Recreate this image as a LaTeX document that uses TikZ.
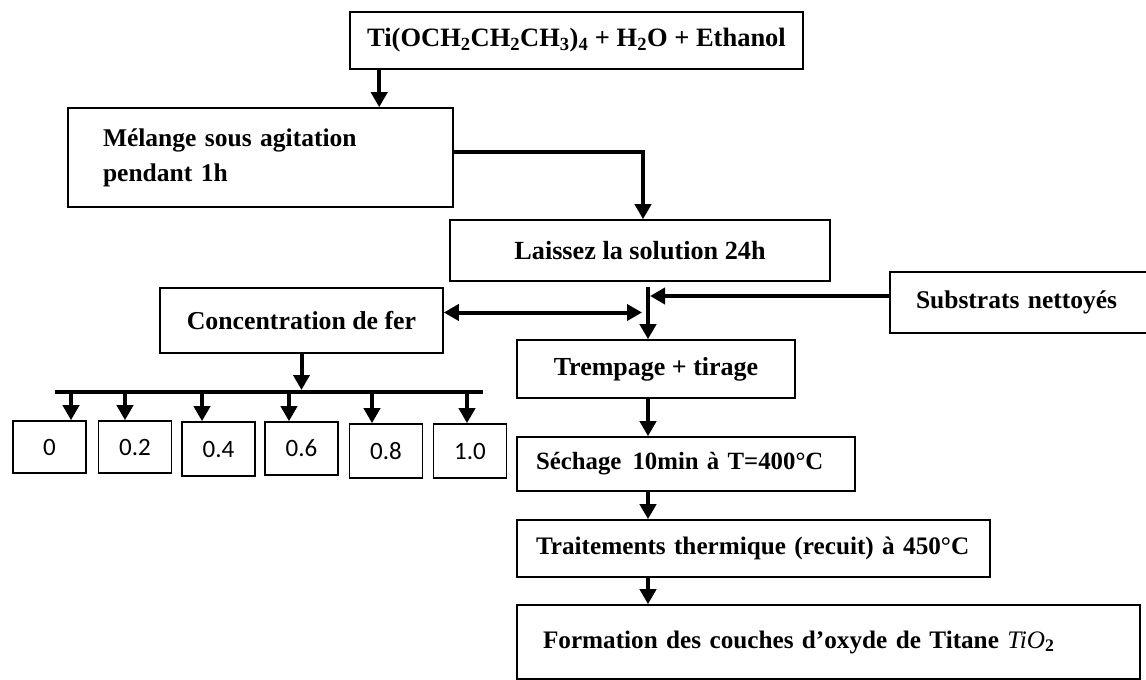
\documentclass[tikz,border=0pt]{standalone}
\usepackage{fontspec}
\setmainfont{Liberation Serif}
\newfontfamily\numfont{Carlito}
\usetikzlibrary{arrows.meta}
\newcommand\boxsize[1]{\fontsize{#1}{#1}\selectfont}
\begin{document}
\begin{tikzpicture}[x=1pt,y=-1pt,
  box/.style={draw, line width=1.6pt, inner sep=0pt, font=\bfseries\boxsize{25.5}},
  numbox/.style={draw, line width=1.6pt, inner sep=0pt, minimum width=73pt,
    font=\numfont\fontsize{25}{29}\selectfont},
  tip/.style={Triangle[length=15pt,width=16pt]},
  arr/.style={line width=4pt, -{Triangle[length=15pt,width=16pt]}},
  darr/.style={line width=4pt, {Triangle[length=15pt,width=16pt]}-{Triangle[length=15pt,width=16pt]}},
  bar/.style={line width=4pt}]
\useasboundingbox (0,0) rectangle (1146,680);

% process boxes
\node[box, minimum width=453pt, minimum height=57pt, font=\bfseries\boxsize{26.5}] (top) at (576.5,40.5)
  {Ti(OCH\textsubscript{2}CH\textsubscript{2}CH\textsubscript{3})\textsubscript{4} + H\textsubscript{2}O + Ethanol};
\node[box, minimum width=385pt, minimum height=99pt, text width=315pt, align=left,
  font=\bfseries\fontsize{25.5}{35}\selectfont] (mel) at (260.5,157.5)
  {Mélange sous agitation\\pendant 1h};
\node[box, minimum width=380pt, minimum height=61pt, font=\bfseries\boxsize{26.2}] (lai) at (640,250.5)
  {Laissez la solution 24h};
\node[box, minimum width=283pt, minimum height=65pt, font=\bfseries\boxsize{25.8}] (conc) at (301.5,320.5)
  {Concentration de fer};
\node[box, minimum width=280pt, minimum height=61pt, text width=228pt, align=left] (sub) at (1030,302.5)
  {\mbox{Substrats nettoyés}};
\node[box, minimum width=278pt, minimum height=58pt, font=\bfseries\boxsize{26}] (trem) at (656,369)
  {Trempage + tirage};
\node[box, minimum width=338pt, minimum height=54pt, text width=300pt, align=left,
  font=\bfseries\boxsize{24.8}] (sech) at (686,464)
  {\mbox{Séchage\hspace{0.45em}10min à T=400°C}};
\node[box, minimum width=473pt, minimum height=57pt, text width=435pt, align=left,
  font=\bfseries\boxsize{25.2}] (trait) at (753.5,548.5)
  {\mbox{Traitements thermique (recuit) à 450°C}};
\node[box, minimum width=623pt, minimum height=74pt, text width=571pt, align=left,
  font=\bfseries\boxsize{25.2}] (form) at (828.5,642)
  {\mbox{Formation des couches d’oxyde de Titane {\mdseries\itshape TiO}\textsubscript{2}}};

% iron concentration boxes
\node[numbox, minimum height=52pt] (b0) at (49.5,447) {0};
\node[numbox, minimum height=52pt] (b1) at (135,447) {0.2};
\node[numbox, minimum height=54pt] (b2) at (218.5,449) {0.4};
\node[numbox, minimum height=53pt] (b3) at (301.5,448.5) {0.6};
\node[numbox, minimum height=54pt] (b4) at (386,451) {0.8};
\node[numbox, minimum height=54pt] (b5) at (470,451) {1.0};

% main flow
\draw[arr] ([xshift=30pt]top.south west) coordinate (a1) -- (a1 |- mel.north);
\draw[arr] ([yshift=5.5pt]mel.east) -| ([xshift=3pt]lai.north);

\coordinate (j) at (648,287);
\draw[arr] (j) -- (j |- trem.north);
\draw[arr, shorten >=2pt] ([yshift=6.5pt]sub.west) coordinate (s1) -- (s1 -| j);
\draw[darr, shorten >=6pt] ([yshift=8pt]conc.east) coordinate (c1) -- (c1 -| j);

\draw[arr] (trem.south -| j) -- (j |- sech.north);
\draw[arr] (sech.south -| j) -- (j |- trait.north);
\draw[arr] (trait.south -| j) -- (j |- form.north);

% distribution bar
\coordinate (barL) at (55,392);
\coordinate (barR) at (483,392);
\draw[bar] (barL) -- (barR);
\draw[arr, shorten >=2pt] (conc.south) -- (conc.south |- barL);
\foreach \x/\b in {71/b0,125/b1,202/b2,289/b3,372/b4,467/b5}
  \draw[arr] (barL -| \x,0) coordinate (t) -- (t |- \b.north);
\end{tikzpicture}
\end{document}
